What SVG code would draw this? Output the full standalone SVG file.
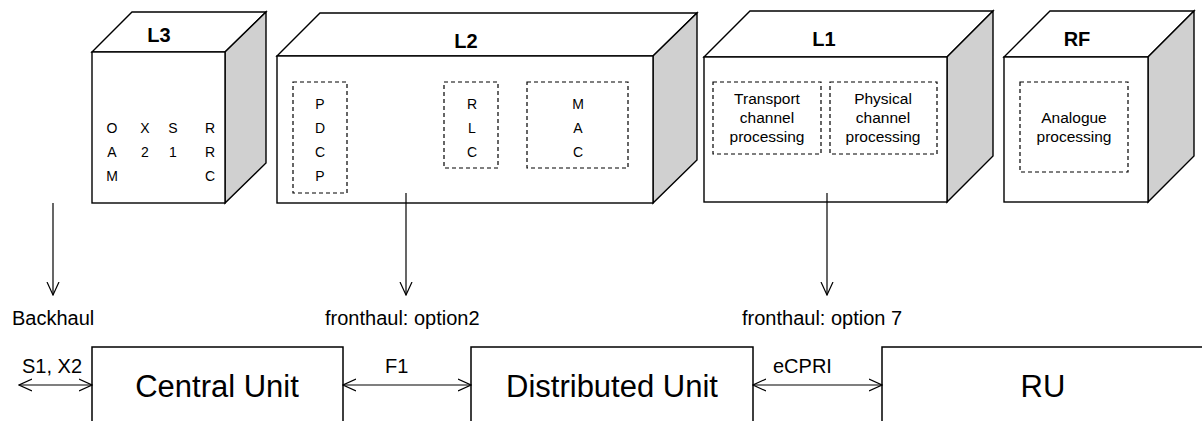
<svg xmlns="http://www.w3.org/2000/svg" width="1202" height="421" viewBox="0 0 1202 421">
<style>
text{font-family:"Liberation Sans",Arial,sans-serif;fill:#000}
.face{fill:#fff;stroke:#000;stroke-width:1.4;stroke-linejoin:miter}
.side{fill:#d0d0d0;stroke:#000;stroke-width:1.4}
.dash{fill:none;stroke:#000;stroke-width:1.2;stroke-dasharray:4,3}
.title{font-size:20px;font-weight:bold;text-anchor:middle}
.let{font-size:14px;text-anchor:middle}
.inner{font-size:15.5px;text-anchor:middle}
.lbl{font-size:20px}
.unit{font-size:31px;text-anchor:middle}
.box{fill:none;stroke:#000;stroke-width:1.5}
.conn{fill:none;stroke:#000;stroke-width:1.2}
</style>
<defs>
<marker id="ah" viewBox="0 0 14 14" refX="13" refY="7" markerWidth="14" markerHeight="14" markerUnits="userSpaceOnUse" orient="auto-start-reverse">
<path d="M0,1 L13,7 L0,13" fill="none" stroke="#000" stroke-width="1.2"/>
</marker>
</defs>
<rect width="1202" height="421" fill="#fff"/>

<g id="L3">
<polygon class="face" points="92,52 132,12 266,12 225,52"/>
<polygon class="side" points="225,52 266,12 266,163 225,203"/>
<rect class="face" x="92" y="52" width="133" height="151"/>
<text class="title" x="159" y="42">L3</text>
<text class="let" x="112" y="133">O</text><text class="let" x="112" y="157">A</text><text class="let" x="112" y="181">M</text>
<text class="let" x="145" y="133">X</text><text class="let" x="145" y="157">2</text>
<text class="let" x="173" y="133">S</text><text class="let" x="173" y="157">1</text>
<text class="let" x="210" y="133">R</text><text class="let" x="210" y="157">R</text><text class="let" x="210" y="181">C</text>
</g>

<g id="L2">
<polygon class="face" points="277,56 320,13 697,13 653,56"/>
<polygon class="side" points="653,56 697,13 697,160 653,203"/>
<rect class="face" x="277" y="56" width="376" height="147"/>
<text class="title" x="466" y="48">L2</text>
<rect class="dash" x="293" y="82" width="54" height="111"/>
<text class="let" x="320" y="109">P</text><text class="let" x="320" y="133">D</text><text class="let" x="320" y="157">C</text><text class="let" x="320" y="181">P</text>
<rect class="dash" x="444" y="82" width="54" height="86"/>
<text class="let" x="472" y="109">R</text><text class="let" x="472" y="133">L</text><text class="let" x="472" y="157">C</text>
<rect class="dash" x="527" y="82" width="101" height="86"/>
<text class="let" x="578" y="109">M</text><text class="let" x="578" y="133">A</text><text class="let" x="578" y="157">C</text>
</g>

<g id="L1">
<polygon class="face" points="704,57 750,11 993,11 947,57"/>
<polygon class="side" points="947,57 993,11 993,156 947,202"/>
<rect class="face" x="704" y="57" width="243" height="145"/>
<text class="title" x="824" y="46">L1</text>
<rect class="dash" x="713" y="82" width="108" height="72"/>
<text class="inner" x="767" y="104">Transport</text><text class="inner" x="767" y="123">channel</text><text class="inner" x="767" y="142">processing</text>
<rect class="dash" x="830" y="82" width="107" height="72"/>
<text class="inner" x="883" y="104">Physical</text><text class="inner" x="883" y="123">channel</text><text class="inner" x="883" y="142">processing</text>
</g>

<g id="RF">
<polygon class="face" points="1004,57 1050,11 1194,11 1148,57"/>
<polygon class="side" points="1148,57 1194,11 1194,156 1148,202"/>
<rect class="face" x="1004" y="57" width="144" height="145"/>
<text class="title" x="1077" y="46">RF</text>
<rect class="dash" x="1020" y="82" width="108" height="90"/>
<text class="inner" x="1074" y="123">Analogue</text><text class="inner" x="1074" y="142">processing</text>
</g>

<g id="labels">
<text class="lbl" x="12" y="325">Backhaul</text>
<text class="lbl" x="325" y="325">fronthaul: option2</text>
<text class="lbl" x="742" y="325">fronthaul: option 7</text>
</g>

<g id="CU">
<path class="box" d="M92,421 V347 H343 V421"/>
<text class="unit" x="217" y="397">Central Unit</text>
</g>
<g id="DU">
<path class="box" d="M471,421 V347 H753 V421"/>
<text class="unit" x="612" y="397">Distributed Unit</text>
</g>
<g id="RU">
<path class="box" d="M882,421 V347 H1210"/>
<text class="unit" x="1043" y="397">RU</text>
</g>

<g id="connectors">
<line class="conn" x1="53" y1="203" x2="53" y2="295" marker-end="url(#ah)"/>
<line class="conn" x1="406" y1="193" x2="406" y2="295" marker-end="url(#ah)"/>
<line class="conn" x1="827" y1="193" x2="827" y2="295" marker-end="url(#ah)"/>
<line class="conn" x1="19" y1="385" x2="92" y2="385" marker-start="url(#ah)" marker-end="url(#ah)"/>
<line class="conn" x1="343" y1="385" x2="471" y2="385" marker-start="url(#ah)" marker-end="url(#ah)"/>
<line class="conn" x1="753" y1="385" x2="882" y2="385" marker-start="url(#ah)" marker-end="url(#ah)"/>
<text class="lbl" x="22" y="373">S1, X2</text>
<text class="lbl" x="385" y="373">F1</text>
<text class="lbl" x="773" y="373">eCPRI</text>
</g>
</svg>
